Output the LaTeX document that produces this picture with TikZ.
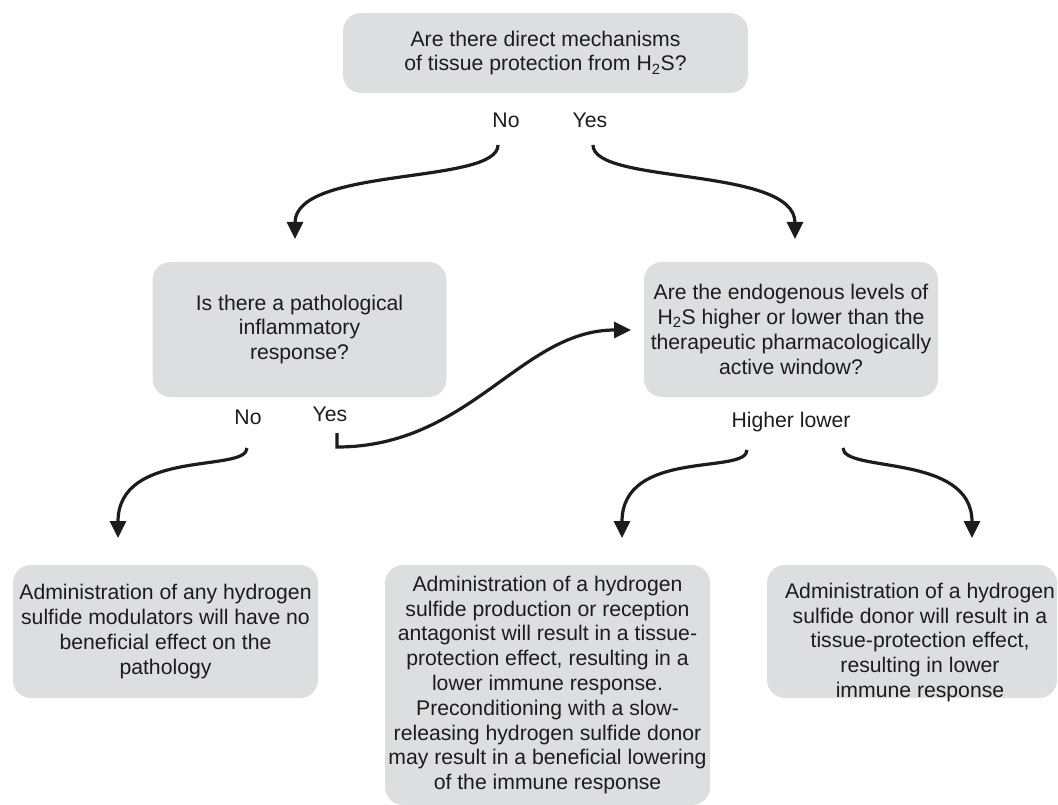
\documentclass[tikz,border=0pt]{standalone}
\usepackage{fontspec}
\setmainfont{Liberation Sans}
\usetikzlibrary{arrows.meta}
\definecolor{boxgray}{RGB}{221,222,224}
\definecolor{ink}{RGB}{30,27,28}
\begin{document}
\begin{tikzpicture}[x=1pt,y=-1pt,
  box/.style={fill=boxgray, draw=none, rounded corners=18pt, align=center,
    inner sep=0pt, text=ink, font=\fontsize{21.2}{24.8}\selectfont},
  lbl/.style={text=ink, inner sep=1pt, font=\fontsize{21.2}{24.8}\selectfont},
  arr/.style={draw=ink, line width=3.2pt, -{Triangle[length=17pt,width=16pt]}}]
\useasboundingbox (0,0) rectangle (1058,805);
\clip (0,0) rectangle (1058,805);
% boxes
\node[box, minimum width=405, minimum height=80] (top) at (545.5,53)
  {Are there direct mechanisms\\of tissue protection from H\textsubscript{2}S?};
\node[box, minimum width=294, minimum height=135] (midL) at (299.5,329.5)
  {Is there a pathological\\inflammatory\\response?};
\node[box, minimum width=294, minimum height=135] (midR) at (791,329.5)
  {Are the endogenous levels of\\H\textsubscript{2}S higher or lower than the\\therapeutic pharmacologically\\active window?};
\node[box, minimum width=305, minimum height=133] (botL) at (165.5,631.5)
  {Administration of any hydrogen\\sulfide modulators will have no\\beneficial effect on the\\pathology};
\node[box, minimum width=325, minimum height=240] (botM) at (547.5,685)
  {Administration of a hydrogen\\sulfide production or reception\\antagonist will result in a tissue-\\protection effect, resulting in a\\lower immune response.\\Preconditioning with a slow-\\releasing hydrogen sulfide donor\\may result in a beneficial lowering\\of the immune response};
\node[box, minimum width=290, minimum height=133] (botR) at (912,631.5) {};
\node[box, fill=none] (botRt) at (920,642.5)
  {Administration of a hydrogen\\sulfide donor will result in a\\tissue-protection effect,\\resulting in lower\\immune response};
% labels
\node[lbl] (no1) at (506,120) {No};
\node[lbl] (yes1) at (590,120) {Yes};
\node[lbl] (no2) at (248,417) {No};
\node[lbl] (yes2) at (330,414) {Yes};
\node[lbl] (hl) at (791,422) {Higher lower};
% arrow ends
\coordinate (s1) at (498,145);
\coordinate (e1) at (295,239);
\coordinate (s2) at (593,145);
\coordinate (e2) at (795,239);
\coordinate (s3) at (337,433);
\coordinate (k3) at (337,447);
\coordinate (e3) at (631,330);
\coordinate (s4) at (247,448);
\coordinate (e4) at (118,538);
\coordinate (s5) at (747,450);
\coordinate (e5) at (622,538);
\coordinate (s6) at (843,448);
\coordinate (e6) at (972,538);
% connectors
\draw[arr] (s1) .. controls +(0,40) and +(0,-73) .. (e1);
\draw[arr] (s2) .. controls +(0,40) and +(0,-73) .. (e2);
\draw[arr] (s3) -- (k3) .. controls +(133,0) and +(-110,0) .. (e3);
\draw[arr] (s4) .. controls +(0,25) and +(0,-90) .. (e4);
\draw[arr] (s5) .. controls +(0,25) and +(0,-90) .. (e5);
\draw[arr] (s6) .. controls +(0,25) and +(0,-85) .. (e6);
\end{tikzpicture}
\end{document}
